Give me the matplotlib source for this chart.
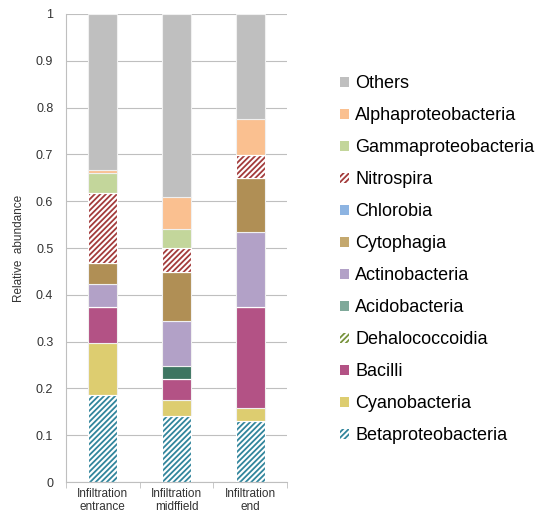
import matplotlib
matplotlib.use("Agg")
import matplotlib.pyplot as plt
from matplotlib.patches import Patch
import numpy as np

sites = ["Infiltration\nentrance", "Infiltration\nmidffield", "Infiltration\nend"]

# stacking order, bottom to top
taxa = ["Betaproteobacteria", "Cyanobacteria", "Bacilli", "Dehalococcoidia",
        "Acidobacteria", "Actinobacteria", "Cytophagia", "Chlorobia",
        "Nitrospira", "Gammaproteobacteria", "Alphaproteobacteria", "Others"]

beta = [0.187, 0.141, 0.130]
cyano = [0.110, 0.034, 0.028]
bacilli = [0.076, 0.046, 0.215]
dehalo = [0.0, 0.0, 0.0]
acido = [0.0, 0.028, 0.0]
actino = [0.051, 0.096, 0.162]
cyto = [0.044, 0.104, 0.115]
chlorobia = [0.0, 0.0, 0.0]
nitro = [0.150, 0.051, 0.048]
gamma = [0.042, 0.040, 0.0]
alpha = [0.006, 0.068, 0.078]
others = [0.334, 0.392, 0.224]

values = [beta, cyano, bacilli, dehalo, acido, actino, cyto, chlorobia,
          nitro, gamma, alpha, others]

colors = ["#31859C", "#DDCD70", "#B35285", "#77933C", "#3D7561", "#B2A1C7",
          "#B08F55", "#8DB4E2", "#A33B3B", "#C3D69B", "#FAC090", "#BFBFBF"]
legend_colors = ["#31859C", "#DDCD70", "#B35285", "#77933C", "#7FA99A", "#B2A1C7",
                 "#C4A86E", "#8DB4E2", "#A33B3B", "#C3D69B", "#FAC090", "#BFBFBF"]
hatched = {"Betaproteobacteria", "Nitrospira", "Dehalococcoidia"}

plt.rcParams["font.family"] = ["Liberation Sans", "DejaVu Sans"]
plt.rcParams["hatch.linewidth"] = 1.3

fig = plt.figure(figsize=(5.44, 5.14), dpi=100)
ax = fig.add_axes([0.121, 0.062, 0.407, 0.911])

x = np.arange(len(sites))
bottom = np.zeros(len(sites))
handles = []
for name, vals, col, lcol in zip(taxa, values, colors, legend_colors):
    vals = np.array(vals)
    if name in hatched:
        ax.bar(x, vals, 0.4, bottom=bottom, color="white", edgecolor=col,
               hatch="//////", linewidth=0, zorder=2)
        ax.bar(x, vals, 0.4, bottom=bottom, fill=False, edgecolor="white",
               linewidth=0.8, zorder=3)
        handles.append(Patch(facecolor="white", edgecolor=lcol, hatch="//////",
                             linewidth=0, label=name))
    else:
        ax.bar(x, vals, 0.4, bottom=bottom, color=col, edgecolor="#F0F0F0",
               linewidth=0.8, zorder=2)
        handles.append(Patch(facecolor=lcol, edgecolor="none", label=name))
    bottom += vals

ax.set_xlim(-0.5, 2.5)
ax.set_ylim(0, 1)
ax.set_yticks(np.arange(0, 1.01, 0.1))
ax.set_yticklabels(["0"] + ["%.1f" % v for v in np.arange(0.1, 0.95, 0.1)] + ["1"])
ax.set_xticks(x)
ax.set_xticklabels(sites, fontsize=8.5, color="#333333", linespacing=1.1)
ax.set_xticks([-0.5, 0.5, 1.5, 2.5], minor=True)
ax.tick_params(axis="x", which="major", length=0, pad=4)
ax.tick_params(axis="x", which="minor", length=4, color="#BFBFBF")
ax.tick_params(axis="y", length=0, labelsize=9, colors="#333333", pad=9)
ax.yaxis.grid(True, color="#BFBFBF", linewidth=0.8, zorder=0)
ax.set_axisbelow(True)
for s in ["top", "right"]:
    ax.spines[s].set_visible(False)
ax.spines["left"].set_color("#BFBFBF")
ax.spines["bottom"].set_color("#BFBFBF")
ax.set_ylabel("Relative  abundance", fontsize=8.5, color="#333333", labelpad=8)

fig.legend(handles[::-1], [h.get_label() for h in handles[::-1]],
           loc="upper left", bbox_to_anchor=(0.595, 0.885), frameon=False,
           fontsize=13, handlelength=0.5, handleheight=0.5, handletextpad=0.35,
           labelspacing=0.83)

fig.savefig("out.png", dpi=100)
